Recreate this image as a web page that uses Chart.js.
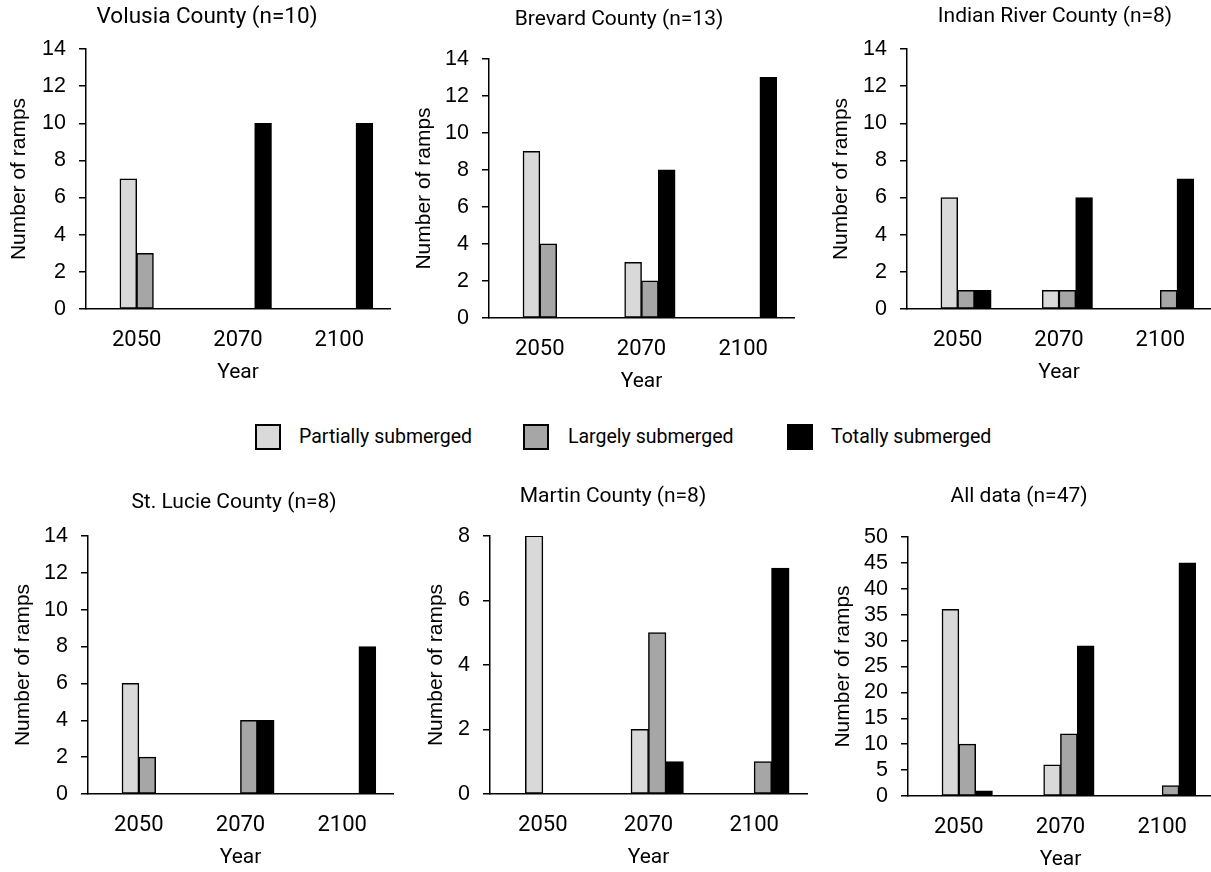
<!DOCTYPE html>
<html>
<head>
<meta charset="utf-8">
<title>Boat ramp submergence by county</title>
<script src="https://cdn.jsdelivr.net/npm/chart.js@4.4.1/dist/chart.umd.min.js"></script>
<style>
  html, body { margin: 0; padding: 0; background: #fff; width: 1211px; height: 872px; overflow: hidden; }
  #page { position: relative; width: 1211px; height: 872px; }
  canvas.panel { position: absolute; }
  .key-box { position: absolute; box-sizing: border-box; border: 2.5px solid #000; }
  .key-text { position: absolute; font-family: Roboto, sans-serif; font-size: 19.5px; color: #000; line-height: 24px; white-space: nowrap; }
</style>
</head>
<body>
<div id="page"></div>
<script>
// ---- data -------------------------------------------------------------
const years = ['2050', '2070', '2100'];
const seriesNames = ['Partially submerged', 'Largely submerged', 'Totally submerged'];
const seriesColors = ['#d9d9d9', '#a6a6a6', '#000000'];

const volusiaPartial = [7, 0, 0];
const volusiaLargely = [3, 0, 0];
const volusiaTotally = [0, 10, 10];

const brevardPartial = [9, 3, 0];
const brevardLargely = [4, 2, 0];
const brevardTotally = [0, 8, 13];

const indianRiverPartial = [6, 1, 0];
const indianRiverLargely = [1, 1, 1];
const indianRiverTotally = [1, 6, 7];

const stLuciePartial = [6, 0, 0];
const stLucieLargely = [2, 4, 0];
const stLucieTotally = [0, 4, 8];

const martinPartial = [8, 2, 0];
const martinLargely = [0, 5, 1];
const martinTotally = [0, 1, 7];

const allPartial = [36, 6, 0];
const allLargely = [10, 12, 2];
const allTotally = [1, 29, 45];

const yTicks14 = [0, 2, 4, 6, 8, 10, 12, 14];
const yTicks8 = [0, 2, 4, 6, 8];
const yTicks50 = [0, 5, 10, 15, 20, 25, 30, 35, 40, 45, 50];

// ---- panel layout (page pixels) ----------------------------------------
// area: [left, top, right, bottom] of the plotting area
const panels = [
  { title: 'Volusia County (n=10)', series: [volusiaPartial, volusiaLargely, volusiaTotally], ticks: yTicks14,
    area: [86, 49, 390, 309], titleAt: [207, 17], titleSize: 22.5, yTitleGap: 66 },
  { title: 'Brevard County (n=13)', series: [brevardPartial, brevardLargely, brevardTotally], ticks: yTicks14,
    area: [489, 59, 794, 318], titleAt: [619, 20], titleSize: 21, yTitleGap: 64 },
  { title: 'Indian River County (n=8)', series: [indianRiverPartial, indianRiverLargely, indianRiverTotally], ticks: yTicks14,
    area: [907, 49, 1211, 309], titleAt: [1055, 17], titleSize: 21, yTitleGap: 65 },
  { title: 'St. Lucie County (n=8)', series: [stLuciePartial, stLucieLargely, stLucieTotally], ticks: yTicks14,
    area: [88, 536, 393, 794], titleAt: [234, 503], titleSize: 21, yTitleGap: 64 },
  { title: 'Martin County (n=8)', series: [martinPartial, martinLargely, martinTotally], ticks: yTicks8,
    area: [490, 536, 807, 794], titleAt: [613, 497], titleSize: 21, yTitleGap: 53 },
  { title: 'All data (n=47)', series: [allPartial, allLargely, allTotally], ticks: yTicks50,
    area: [908, 537, 1213, 796], titleAt: [1019, 497], titleSize: 21, yTitleGap: 64 }
];

Chart.defaults.color = '#000';
Chart.defaults.animation = false;

const AXIS_FONT = 'Liberation Sans, Arial, sans-serif';
const LABEL_FONT = 'Roboto, sans-serif';
const Y_TITLE_SIZE = 21;
const TOP_PAD = 56;
const RIGHT_PAD = 4;
const X_AXIS_H = 76;
const BOTTOM_PAD = 2;

// Draws the panel heading at a given canvas position
const panelTitle = {
  id: 'panelTitle',
  afterDraw(chart, args, opts) {
    const { ctx } = chart;
    ctx.save();
    ctx.font = `${opts.size}px ${LABEL_FONT}`;
    ctx.fillStyle = '#000';
    ctx.textAlign = 'center';
    ctx.textBaseline = 'middle';
    ctx.fillText(opts.text, opts.x, opts.y);
    ctx.restore();
  }
};

const page = document.getElementById('page');

panels.forEach(p => {
  const [aL, aT, aR, aB] = p.area;
  const yAxisW = Math.round(p.yTitleGap + Y_TITLE_SIZE * 1.2 / 2);
  const left = aL - yAxisW;
  const top = aT - TOP_PAD;
  const width = aR + RIGHT_PAD - left;
  const height = aB + X_AXIS_H + BOTTOM_PAD - top;

  const canvas = document.createElement('canvas');
  canvas.className = 'panel';
  canvas.width = width;
  canvas.height = height;
  canvas.style.left = left + 'px';
  canvas.style.top = top + 'px';
  canvas.style.width = width + 'px';
  canvas.style.height = height + 'px';
  page.appendChild(canvas);

  // an empty leading slot keeps each year label under the first two bars
  const datasets = [{ label: '', data: years.map(() => null), backgroundColor: 'rgba(0,0,0,0)', borderWidth: 0 }]
    .concat(p.series.map((vals, i) => ({
      label: seriesNames[i],
      data: vals,
      backgroundColor: seriesColors[i],
      borderColor: '#000',
      borderWidth: 1.5,
      borderSkipped: false,
      inflateAmount: 0.4
    })));

  const tickValues = p.ticks;
  const yMax = tickValues[tickValues.length - 1];
  const yStep = tickValues[1] - tickValues[0];

  new Chart(canvas, {
    type: 'bar',
    data: { labels: years, datasets },
    options: {
      responsive: false,
      devicePixelRatio: 1,
      animation: false,
      layout: { padding: { left: 0, top: TOP_PAD, right: RIGHT_PAD, bottom: BOTTOM_PAD } },
      datasets: { bar: { categoryPercentage: 0.66, barPercentage: 1.0 } },
      plugins: {
        legend: { display: false },
        tooltip: { enabled: false },
        title: { display: false },
        panelTitle: { text: p.title, size: p.titleSize, x: p.titleAt[0] - left, y: p.titleAt[1] - top }
      },
      scales: {
        x: {
          offset: true,
          grid: { display: false, drawTicks: false },
          border: { display: true, color: '#000', width: 1.5 },
          ticks: { font: { family: LABEL_FONT, size: 22 }, color: '#000', padding: 18, maxRotation: 0 },
          title: { display: true, text: 'Year', font: { family: LABEL_FONT, size: 21 }, color: '#000', padding: 0 },
          afterFit(scale) { scale.height = X_AXIS_H; }
        },
        y: {
          min: 0,
          max: yMax,
          grid: { display: true, drawOnChartArea: false, drawTicks: true, tickLength: 7, color: '#000', lineWidth: 1.5 },
          border: { display: true, color: '#000', width: 1.5 },
          ticks: { stepSize: yStep, autoSkip: false, font: { family: AXIS_FONT, size: 21.5 }, color: '#000', padding: 13 },
          title: { display: true, text: 'Number of ramps', font: { family: AXIS_FONT, size: Y_TITLE_SIZE }, color: '#000', padding: 0 },
          afterFit(scale) { scale.width = yAxisW; }
        }
      }
    },
    plugins: [panelTitle]
  });
});

// ---- shared key between the two rows -----------------------------------
const keyBoxX = [255, 523, 787];
const keyTextX = [299, 568, 831];
seriesNames.forEach((name, i) => {
  const box = document.createElement('div');
  box.className = 'key-box';
  box.style.left = keyBoxX[i] + 'px';
  box.style.top = '424px';
  box.style.width = '26px';
  box.style.height = '26px';
  box.style.background = seriesColors[i];
  page.appendChild(box);

  const txt = document.createElement('div');
  txt.className = 'key-text';
  txt.style.left = keyTextX[i] + 'px';
  txt.style.top = '425px';
  txt.textContent = name;
  page.appendChild(txt);
});
</script>
</body>
</html>
